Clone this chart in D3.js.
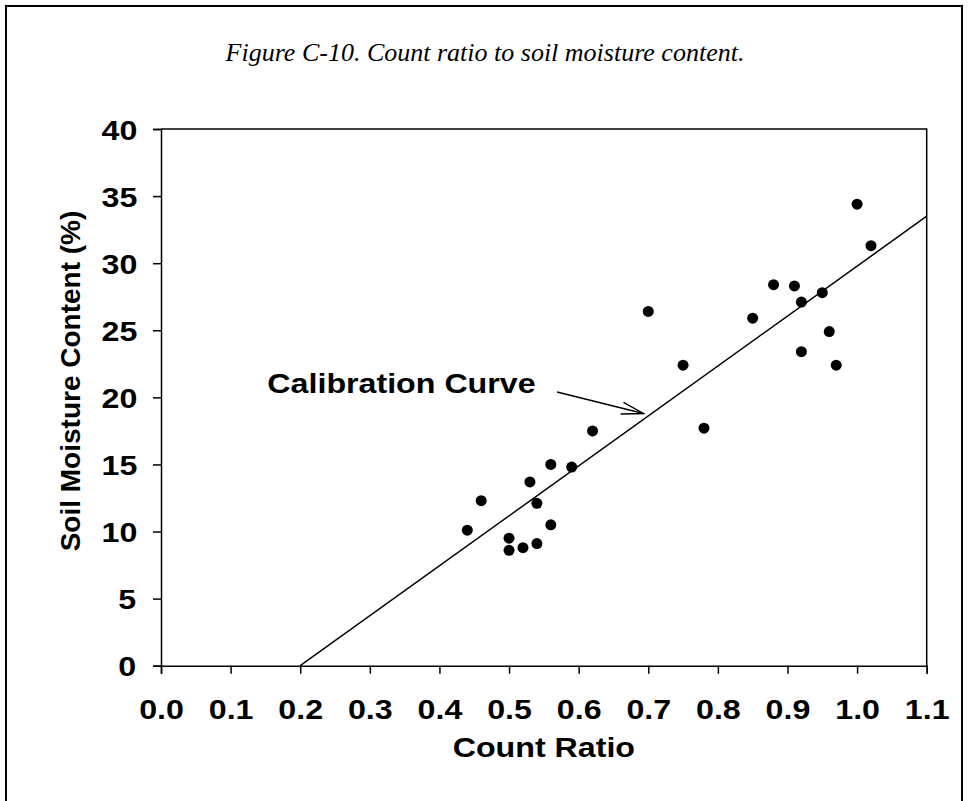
<!doctype html>
<html lang="en">
<head>
    <meta charset="utf-8">
    <title>Count ratio to soil moisture content</title>
    <script src="https://d3js.org/d3.v7.min.js"></script>
    <style>
        body { margin: 0; background: #fff; }
        svg text { fill: #000; }
        .bold { font-family: "Liberation Sans", Arial, sans-serif; font-weight: bold; font-size: 28px; }
        .stretch { transform-box: fill-box; transform-origin: center; transform: scaleX(1.15); }
        .title { font-family: "Liberation Serif", "Times New Roman", serif; font-style: italic; font-size: 26px; }
    </style>
</head>
<body>
    <div id="chart"></div>
    <script>
        // measured points (count ratio, soil moisture %)
        var countRatio = [0.44, 0.46, 0.50, 0.50, 0.52, 0.53, 0.54, 0.54, 0.56, 0.56, 0.59, 0.62,
                          0.70, 0.75, 0.78, 0.85, 0.88, 0.91, 0.92, 0.92, 0.95, 0.96, 0.97, 1.00, 1.02];
        var moisture   = [10.1, 12.3, 9.5, 8.6, 8.8, 13.7, 12.1, 9.1, 15.0, 10.5, 14.8, 17.5,
                          26.4, 22.4, 17.7, 25.9, 28.4, 28.3, 27.1, 23.4, 27.8, 24.9, 22.4, 34.4, 31.3];

        // calibration curve end points
        var curveX = [0.2, 1.1];
        var curveY = [0, 33.5];

        var xTicks = [0.0, 0.1, 0.2, 0.3, 0.4, 0.5, 0.6, 0.7, 0.8, 0.9, 1.0, 1.1];
        var yTicks = [0, 5, 10, 15, 20, 25, 30, 35, 40];

        var width = 969, height = 801;
        var margin = { left: 161, top: 129, right: 969 - 926.7, bottom: 801 - 665.7 };

        var svg = d3.select("#chart").append("svg")
            .attr("width", width)
            .attr("height", height);

        // outer frame
        svg.append("rect")
            .attr("x", 6).attr("y", 6)
            .attr("width", 956).attr("height", 830)
            .attr("fill", "none")
            .attr("stroke", "#000")
            .attr("stroke-width", 2);

        svg.append("text")
            .attr("class", "title")
            .attr("x", 485).attr("y", 61)
            .attr("text-anchor", "middle")
            .text("Figure C-10. Count ratio to soil moisture content.");

        var x = d3.scaleLinear().domain([0, 1.1]).range([margin.left, width - margin.right]);
        var y = d3.scaleLinear().domain([0, 40]).range([height - margin.bottom, margin.top]);

        // top and right frame of plot
        svg.append("path")
            .attr("d", "M" + x(0) + "," + y(40) + "H" + x(1.1) + "V" + y(0))
            .attr("fill", "none")
            .attr("stroke", "#000")
            .attr("stroke-width", 1.5);

        var xAxis = svg.append("g")
            .attr("transform", "translate(0," + y(0) + ")")
            .call(d3.axisBottom(x).tickValues(xTicks).tickFormat(d3.format(".1f")).tickSize(8).tickPadding(25));
        var yAxis = svg.append("g")
            .attr("transform", "translate(" + x(0) + ",0)")
            .call(d3.axisLeft(y).tickValues(yTicks).tickSize(8).tickPadding(18));

        [xAxis, yAxis].forEach(function (ax) {
            ax.select(".domain").attr("stroke-width", 1.5);
            ax.selectAll(".tick line").attr("stroke-width", 1.5);
            ax.selectAll("text").attr("class", "bold stretch").attr("font-family", null).attr("font-size", null);
        });
        xAxis.selectAll("text").attr("dy", "0.71em");
        yAxis.selectAll("text").attr("dy", "0.36em");

        // axis titles
        svg.append("text")
            .attr("class", "bold stretch")
            .attr("x", (x(0) + x(1.1)) / 2)
            .attr("y", 757)
            .attr("text-anchor", "middle")
            .text("Count Ratio");

        svg.append("text")
            .attr("class", "bold")
            .attr("transform", "translate(80,381) rotate(-90)")
            .attr("text-anchor", "middle")
            .text("Soil Moisture Content (%)");

        // calibration line
        svg.append("line")
            .attr("x1", x(curveX[0])).attr("y1", y(curveY[0]))
            .attr("x2", x(curveX[1])).attr("y2", y(curveY[1]))
            .attr("stroke", "#000")
            .attr("stroke-width", 1.5);

        // points
        svg.selectAll("circle.pt")
            .data(countRatio)
            .enter()
            .append("circle")
            .attr("class", "pt")
            .attr("cx", function (d) { return x(d); })
            .attr("cy", function (d, i) { return y(moisture[i]); })
            .attr("r", 5.5)
            .attr("fill", "#000");

        // annotation with open arrow
        svg.append("defs").append("marker")
            .attr("id", "arrow")
            .attr("viewBox", "-24 -8 26 16")
            .attr("markerWidth", 26).attr("markerHeight", 16)
            .attr("markerUnits", "userSpaceOnUse")
            .attr("orient", "auto")
            .append("path")
            .attr("d", "M-22,-6L0,0L-22,6")
            .attr("fill", "none")
            .attr("stroke", "#000")
            .attr("stroke-width", 1.5);

        svg.append("line")
            .attr("x1", x(0.569)).attr("y1", y(20.4))
            .attr("x2", x(0.693)).attr("y2", y(18.8))
            .attr("stroke", "#000")
            .attr("stroke-width", 1.5)
            .attr("marker-end", "url(#arrow)");

        svg.append("text")
            .attr("class", "bold stretch")
            .attr("x", x(0.3455)).attr("y", y(20.3))
            .attr("text-anchor", "middle")
            .text("Calibration Curve");
    </script>
</body>
</html>
